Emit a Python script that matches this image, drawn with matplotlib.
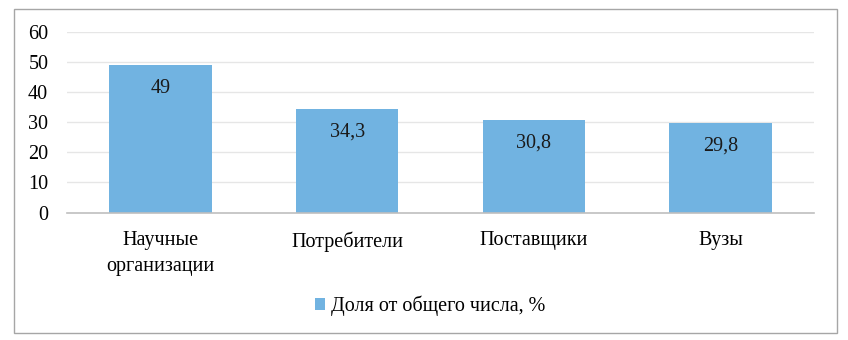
import matplotlib
matplotlib.use("Agg")
import matplotlib.pyplot as plt
from matplotlib.patches import Rectangle

categories = ["Научные\nорганизации", "Потребители", "Поставщики", "Вузы"]
values = [49, 34.3, 30.8, 29.8]
value_labels = ["49", "34,3", "30,8", "29,8"]
series_name = "Доля от общего числа, %"
yticks = [0, 10, 20, 30, 40, 50, 60]

plt.rcParams['font.family'] = 'Liberation Serif'
FS = 14.5

W, H = 848, 340
fig = plt.figure(figsize=(W/100, H/100), dpi=100)
fig.patches.append(Rectangle((14/W, 1 - 333/H), (837-14)/W, (333-9)/H,
                             transform=fig.transFigure, fill=False,
                             edgecolor='#A6A6A6', linewidth=1.0))

ax = fig.add_axes([67/W, 1 - 212.5/H, (814-67)/W, (212.5-32)/H])
color = '#71B3E1'
x = list(range(len(categories)))
bars = ax.bar(x, values, width=0.55, color=color, zorder=2, label=series_name)
ax.set_xlim(-0.5, len(categories) - 0.5)
ax.set_ylim(0, 60)
ax.set_yticks(yticks)
ax.set_yticklabels([str(v) for v in yticks], fontsize=FS, family='Liberation Serif')
ax.set_xticks(x)
ax.set_xticklabels(categories, fontsize=FS, linespacing=1.45, family='Liberation Serif')
ax.tick_params(axis='both', length=0)
ax.tick_params(axis='y', pad=13.5)
ax.tick_params(axis='x', pad=13.5)
for v in yticks[1:]:
    ax.axhline(v, color='#E6E6E6', linewidth=1.0, zorder=1)
for s in ['top', 'right', 'left']:
    ax.spines[s].set_visible(False)
ax.spines['bottom'].set_color('#BFBFBF')
ax.spines['bottom'].set_linewidth(1.2)

for xi, v, lab in zip(x, values, value_labels):
    ax.annotate(lab, (xi, v), xytext=(0, -23), textcoords='offset pixels',
                ha='center', va='center', fontsize=FS, color='#1a1a1a', zorder=3,
                family='Liberation Serif')

fig.legend(handles=[bars], labels=[series_name], loc='center',
           bbox_to_anchor=(430/W, 1 - 306/H), frameon=False,
           prop={'family': 'Liberation Serif', 'size': FS},
           handlelength=0.5, handleheight=0.5, handletextpad=0.3)

fig.savefig("out.png", dpi=100)
